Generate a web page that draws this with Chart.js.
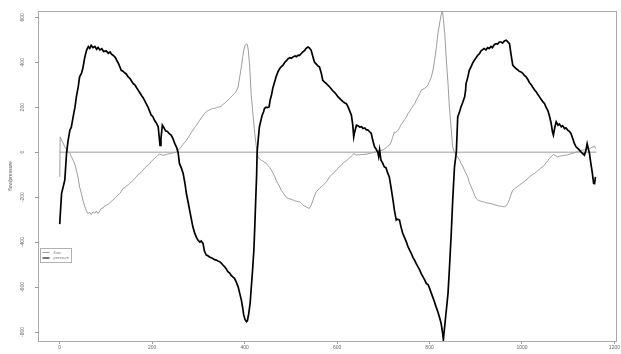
<!DOCTYPE html>
<html>
<head>
<meta charset="utf-8">
<script src="https://cdn.jsdelivr.net/npm/chart.js@4/dist/chart.umd.min.js"></script>
<style>
    html, body { margin: 0; padding: 0; background: #fff; }
</style>
</head>
<body>
<canvas id="chartFlow" width="621" height="354"></canvas>
<script>
var xTicks = [0, 200, 400, 600, 800, 1000, 1200];
var yTicks = [-800, -600, -400, -200, 0, 200, 400, 600];
var seriesNames = ['flow', 'pressure'];

// [index, value]
var pressurePts = [[0,-320],[2,-250],[4,-184],[8,-150],[11,-124],[13,-60],[15,0],[18,50],[22,98],[25,110],[29,157],[33,200],[36,246],[40,290],[43,335],[47,350],[50,373],[54,420],[58,453],[62,470],[65,462],[68,475],[72,465],[76,470],[80,458],[83,466],[87,455],[91,460],[95,448],[101,450],[105,440],[109,446],[112,436],[116,430],[120,422],[123,410],[127,395],[130,380],[133,364],[137,360],[141,352],[144,348],[148,335],[152,328],[155,318],[159,305],[163,298],[166,288],[170,275],[174,262],[177,252],[181,240],[184,228],[187,216],[191,200],[194,185],[198,164],[201,160],[205,142],[209,130],[213,113],[215,70],[217,30],[219,60],[222,120],[225,110],[229,95],[233,92],[237,82],[241,76],[245,60],[249,38],[253,20],[256,0],[259,-50],[263,-70],[267,-95],[271,-140],[274,-184],[278,-225],[281,-258],[285,-300],[288,-332],[292,-360],[296,-380],[299,-391],[303,-400],[306,-395],[310,-406],[313,-440],[317,-458],[320,-460],[324,-466],[328,-470],[331,-473],[335,-478],[339,-480],[342,-484],[346,-487],[350,-495],[353,-502],[357,-510],[361,-522],[364,-532],[368,-539],[371,-548],[375,-556],[378,-561],[382,-578],[386,-599],[389,-625],[393,-658],[396,-695],[398,-724],[401,-745],[404,-754],[406,-750],[409,-717],[412,-670],[414,-613],[417,-530],[420,-436],[422,-330],[424,-213],[426,-100],[427,0],[430,70],[432,112],[435,140],[438,164],[441,180],[443,194],[446,200],[449,198],[453,201],[455,230],[458,253],[461,285],[465,313],[468,335],[472,357],[476,372],[479,380],[483,387],[487,400],[491,408],[494,416],[498,420],[501,418],[505,424],[509,428],[512,425],[516,432],[519,431],[523,440],[526,446],[530,453],[533,462],[537,468],[540,464],[544,453],[547,430],[551,401],[555,392],[558,385],[562,379],[566,350],[569,320],[573,312],[577,305],[580,298],[584,290],[588,280],[591,272],[595,265],[598,258],[602,246],[605,240],[609,232],[613,225],[616,220],[620,216],[624,200],[627,185],[631,164],[634,120],[636,68],[638,90],[642,120],[645,118],[649,112],[653,113],[656,105],[660,108],[663,100],[667,98],[670,92],[674,83],[677,55],[681,24],[684,15],[688,0],[690,-20],[692,10],[695,-36],[699,-50],[702,-65],[706,-70],[709,-90],[713,-110],[717,-160],[721,-213],[724,-258],[728,-302],[731,-298],[735,-302],[738,-330],[742,-361],[746,-380],[750,-400],[753,-418],[757,-436],[761,-452],[764,-468],[768,-482],[771,-495],[775,-510],[779,-525],[782,-540],[786,-555],[790,-570],[793,-584],[797,-590],[800,-605],[804,-628],[807,-645],[811,-668],[814,-687],[818,-710],[822,-738],[825,-761],[828,-800],[830,-835],[832,-791],[835,-730],[838,-670],[840,-628],[843,-520],[847,-361],[850,-220],[854,-65],[858,0],[861,157],[865,180],[868,201],[872,222],[876,246],[878,275],[879,305],[883,335],[886,364],[890,380],[893,395],[897,409],[900,418],[904,430],[908,438],[911,450],[915,456],[918,461],[922,455],[926,465],[929,461],[933,470],[936,465],[940,478],[944,483],[947,480],[951,490],[955,490],[958,485],[962,495],[966,498],[969,492],[973,483],[976,440],[980,387],[984,378],[987,372],[991,366],[994,360],[998,357],[1002,350],[1005,342],[1009,335],[1013,322],[1016,310],[1020,300],[1023,290],[1027,278],[1031,268],[1034,258],[1038,246],[1041,236],[1045,225],[1049,216],[1052,200],[1056,185],[1059,164],[1063,130],[1066,90],[1068,76],[1071,110],[1074,135],[1078,120],[1081,125],[1085,113],[1088,118],[1092,105],[1095,108],[1099,98],[1103,92],[1106,83],[1110,60],[1113,40],[1117,24],[1120,18],[1124,10],[1128,0],[1131,-5],[1135,-13],[1138,5],[1141,38],[1143,20],[1146,-6],[1149,-50],[1152,-90],[1155,-139],[1157,-140],[1159,-110]];

var flowPts = [[0,-110],[1,68],[5,50],[11,24],[16,8],[22,-6],[25,-20],[29,-36],[33,-55],[36,-80],[40,-115],[43,-154],[47,-185],[50,-213],[54,-240],[58,-262],[61,-273],[65,-268],[68,-278],[72,-265],[76,-272],[79,-262],[83,-273],[87,-260],[90,-250],[94,-248],[97,-240],[101,-236],[105,-232],[108,-225],[112,-218],[115,-213],[119,-205],[122,-200],[126,-190],[130,-184],[133,-175],[137,-161],[141,-158],[144,-150],[148,-145],[151,-139],[155,-132],[159,-125],[162,-118],[166,-110],[169,-100],[173,-95],[177,-88],[180,-80],[184,-70],[187,-65],[191,-58],[195,-50],[198,-42],[201,-35],[205,-28],[209,-20],[212,-14],[216,-9],[219,-10],[223,-14],[227,-13],[230,-10],[234,-8],[238,-7],[241,-6],[245,-3],[249,-2],[252,0],[256,8],[259,15],[263,24],[267,35],[270,43],[274,53],[278,65],[281,75],[285,88],[288,98],[292,110],[296,120],[299,130],[303,142],[306,152],[310,162],[313,172],[317,179],[321,185],[324,188],[328,192],[331,194],[335,195],[339,198],[342,200],[346,201],[350,206],[353,212],[357,218],[360,224],[364,232],[368,240],[371,246],[375,255],[378,261],[382,272],[386,290],[389,330],[393,379],[396,425],[398,453],[401,475],[404,483],[406,478],[408,453],[411,380],[414,261],[418,170],[422,83],[425,30],[429,-21],[432,-30],[436,-36],[440,-40],[443,-45],[447,-50],[450,-58],[454,-68],[458,-80],[461,-92],[465,-108],[468,-124],[472,-140],[476,-155],[479,-169],[483,-180],[487,-192],[490,-200],[494,-206],[498,-208],[501,-210],[505,-213],[508,-216],[512,-218],[516,-220],[519,-221],[523,-228],[526,-235],[530,-240],[533,-243],[537,-248],[540,-250],[544,-235],[548,-213],[551,-195],[555,-176],[559,-168],[562,-160],[566,-154],[570,-146],[573,-140],[577,-132],[580,-122],[584,-110],[588,-100],[591,-95],[595,-88],[598,-80],[602,-72],[605,-65],[609,-58],[613,-50],[616,-43],[620,-38],[623,-33],[627,-25],[631,-18],[634,-12],[636,-6],[639,-10],[642,-13],[646,-11],[649,-12],[653,-10],[656,-11],[660,-9],[663,-9],[667,-7],[670,-6],[674,-4],[678,-2],[681,0],[685,3],[688,5],[692,7],[695,8],[699,9],[702,14],[706,20],[709,26],[713,31],[717,45],[720,65],[724,90],[727,88],[731,95],[735,108],[738,120],[742,132],[746,145],[750,157],[753,170],[757,182],[761,195],[764,205],[768,216],[771,230],[775,245],[779,262],[782,276],[786,280],[790,285],[793,290],[797,300],[800,315],[804,335],[808,370],[811,409],[815,470],[818,527],[822,575],[825,610],[828,631],[830,590],[833,527],[836,420],[840,305],[843,200],[847,100],[850,24],[854,-2],[858,-13],[861,-22],[865,-35],[868,-50],[872,-62],[875,-78],[879,-95],[883,-112],[886,-135],[890,-154],[894,-172],[897,-190],[901,-206],[904,-212],[908,-216],[911,-218],[915,-221],[919,-222],[922,-225],[926,-226],[930,-228],[933,-229],[937,-231],[940,-233],[944,-236],[948,-238],[951,-240],[955,-240],[958,-242],[962,-243],[966,-238],[969,-228],[973,-210],[976,-190],[980,-169],[984,-163],[987,-158],[991,-152],[994,-147],[998,-141],[1002,-135],[1005,-130],[1009,-124],[1013,-117],[1016,-110],[1020,-104],[1023,-100],[1027,-95],[1031,-88],[1034,-82],[1038,-76],[1041,-70],[1045,-65],[1049,-56],[1052,-47],[1056,-38],[1059,-28],[1063,-20],[1066,-14],[1068,-10],[1072,-15],[1077,-21],[1081,-18],[1085,-16],[1090,-15],[1095,-13],[1099,-12],[1103,-9],[1108,-6],[1112,-4],[1117,0],[1122,3],[1126,6],[1131,9],[1135,11],[1140,13],[1146,16],[1150,20],[1154,24],[1157,27],[1159,16]];

var zeroPts = [[0,0],[1161,0]];

function toXY(pts) {
    return pts.map(function (p) { return { x: p[0], y: p[1] }; });
}

var colors = { 'flow': '#9c9c9c', 'pressure': '#000000', 'zero': '#bdbdbd' };

// plot box (R style)
var boxPlugin = {
    id: 'box',
    beforeDatasetsDraw: function (chart) {
        var a = chart.chartArea, ctx = chart.ctx;
        ctx.save();
        ctx.strokeStyle = '#a8a8a8';
        ctx.lineWidth = 1;
        ctx.strokeRect(Math.round(a.left) + 0.5, Math.round(a.top) + 0.5, Math.round(a.right - a.left), Math.round(a.bottom - a.top));
        ctx.restore();
    }
};

// small legend box bottom left, like legend("bottomleft")
var legendPlugin = {
    id: 'rlegend',
    afterDraw: function (chart) {
        var ctx = chart.ctx;
        var x0 = 40.5, y0 = 248.5, w = 31, h = 14;
        ctx.save();
        ctx.fillStyle = '#fff';
        ctx.fillRect(x0, y0, w, h);
        ctx.strokeStyle = '#b0b0b0';
        ctx.lineWidth = 1;
        ctx.strokeRect(x0, y0, w, h);
        ctx.font = '4px "Liberation Sans", Arial, sans-serif';
        ctx.textBaseline = 'middle';
        ctx.fillStyle = '#777';
        var rows = [
            { label: seriesNames[0], color: colors.flow, lw: 1 },
            { label: seriesNames[1], color: '#555', lw: 1.6 }
        ];
        rows.forEach(function (r, i) {
            var yy = y0 + 4 + i * 5.5;
            ctx.strokeStyle = r.color;
            ctx.lineWidth = r.lw;
            ctx.beginPath();
            ctx.moveTo(x0 + 2, yy);
            ctx.lineTo(x0 + 9, yy);
            ctx.stroke();
            ctx.fillText(r.label, x0 + 13, yy);
        });
        ctx.restore();
    }
};

var plainTick = function (v) { return String(v); };

var chart = new Chart(document.getElementById('chartFlow'), {
    type: 'line',
    data: {
        datasets: [
            { label: seriesNames[1], data: toXY(pressurePts), borderColor: colors.pressure, borderWidth: 1.7, pointRadius: 0, tension: 0, order: 0 },
            { label: seriesNames[0], data: toXY(flowPts), borderColor: colors.flow, borderWidth: 1, pointRadius: 0, tension: 0, order: 1 },
            { label: 'zero', data: toXY(zeroPts), borderColor: colors.zero, borderWidth: 1.5, pointRadius: 0, order: 2 }
        ]
    },
    options: {
        responsive: false,
        animation: false,
        devicePixelRatio: 1,
        layout: { padding: { top: 11, right: 4, left: 0, bottom: 0 } },
        plugins: { legend: { display: false }, tooltip: { enabled: false } },
        scales: {
            x: {
                type: 'linear',
                min: -47,
                max: 1204,
                afterBuildTicks: function (s) { s.ticks = xTicks.map(function (v) { return { value: v }; }); },
                afterFit: function (s) { s.height = 13; },
                ticks: { font: { size: 5, family: '"Liberation Sans", Arial, sans-serif' }, color: '#666', padding: 1, maxRotation: 0, autoSkip: false, callback: plainTick },
                grid: { display: true, drawOnChartArea: false, drawTicks: true, tickLength: 3, color: '#999' },
                border: { display: false }
            },
            y: {
                type: 'linear',
                min: -840,
                max: 628,
                afterBuildTicks: function (s) { s.ticks = yTicks.map(function (v) { return { value: v }; }); },
                afterFit: function (s) { s.width = 38; },
                ticks: { font: { size: 5, family: '"Liberation Sans", Arial, sans-serif' }, color: '#666', padding: 7.5, minRotation: 90, maxRotation: 90, crossAlign: 'center', autoSkip: false, callback: plainTick },
                grid: { display: true, drawOnChartArea: false, drawTicks: true, tickLength: 3, color: '#999' },
                border: { display: false },
                title: { display: true, text: 'flow/pressure', font: { size: 5, family: '"Liberation Sans", Arial, sans-serif' }, color: '#555', padding: { top: 8, bottom: 0 } }
            }
        }
    },
    plugins: [boxPlugin, legendPlugin]
});
</script>
</body>
</html>
